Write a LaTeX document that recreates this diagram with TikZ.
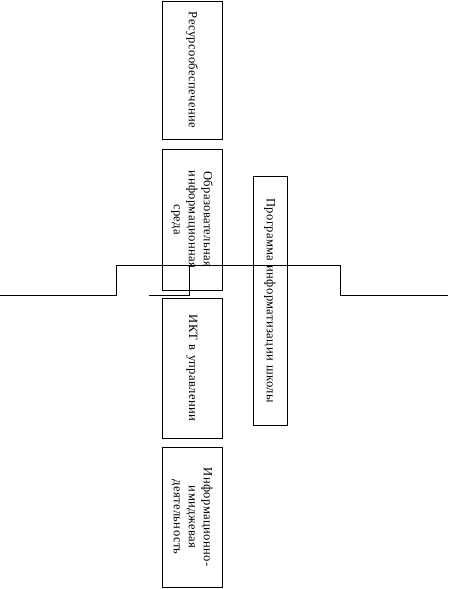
\documentclass[tikz,border=0pt]{standalone}
\usepackage{fontspec}
\setmainfont{Liberation Serif}[LetterSpace=3]
\begin{document}
\begin{tikzpicture}[x=1pt,y=-1pt,
  box/.style={draw,line width=0.9pt,rotate=-90,align=center,inner sep=0pt,
    font=\fontsize{12.6}{15}\selectfont},
  wire/.style={line width=0.9pt}]
\useasboundingbox (0,0) rectangle (448,589);
\node[box,minimum width=138pt,minimum height=60pt,text width=134pt] (b1) at (192,70) {Ресурсообеспечение};
\node[box,minimum width=141pt,minimum height=60pt,text width=134pt] (b2) at (192,219.5) {Образовательная\\информационная\\среда};
\node[box,minimum width=140pt,minimum height=60pt,text width=134pt] (b3) at (192,368) {ИКТ в управлении};
\node[box,minimum width=140pt,minimum height=60pt,text width=134pt] (b4) at (192,517) {Информационно-\\имиджевая\\деятельность};
\node[box,minimum width=249pt,minimum height=34pt,text width=245pt] (p) at (270,300.5) {Программа информатизации школы};
\coordinate (l0) at (0,295);
\coordinate (l1) at (116,265);
\coordinate (r1) at (340,265);
\coordinate (r0) at (448,295);
\coordinate (s0) at (149,295);
\coordinate (s1) at (189,265);
\draw[wire] (l0) -| (l1) -- (r1) |- (r0);
\draw[wire] (s0) -| (s1);
\end{tikzpicture}
\end{document}
